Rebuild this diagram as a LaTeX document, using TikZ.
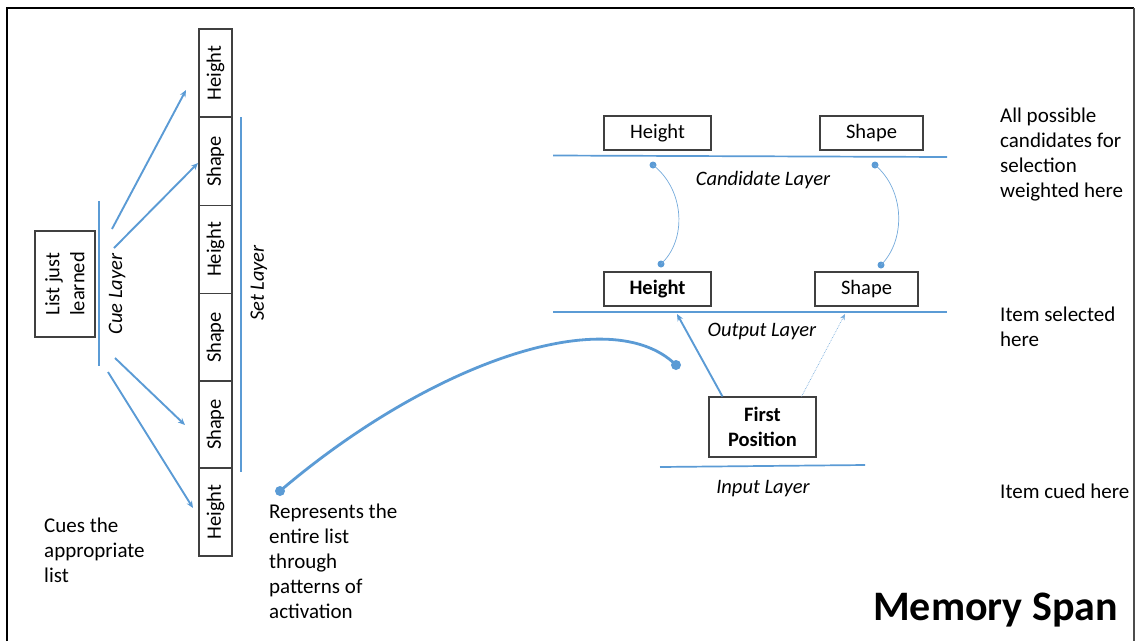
\documentclass[tikz,border=0pt]{standalone}
\usepackage{fontspec}
\setmainfont{Carlito}
\usetikzlibrary{arrows.meta}
\definecolor{acc}{HTML}{5B9BD5}
\definecolor{boxline}{HTML}{404040}
\begin{document}
\begin{tikzpicture}[x=1pt,y=-1pt,
  txt/.style={font=\fontsize{21}{25}\selectfont, inner sep=0pt, align=left},
  lbl/.style={font=\fontsize{20.5}{25}\selectfont\itshape, inner sep=0pt},
  box/.style={draw=boxline, line width=1.1pt, font=\fontsize{20.5}{25}\selectfont, inner sep=0pt, align=center},
  layer/.style={draw=acc, line width=1.7pt},
  cuearrow/.style={draw=acc, line width=1.9pt, -{Stealth[length=7pt,width=6pt]}},
  thinarrow/.style={draw=acc!80, line width=0.7pt, densely dotted, -{Stealth[length=6pt,width=5pt]}},
  link/.style={draw=acc!85, line width=0.7pt},
  dot/.style={circle, fill=acc, inner sep=0pt, minimum size=#1},
  dot/.default=7pt]
\useasboundingbox (0,0) rectangle (1136,641);
% frame
\draw[line width=2.4pt, black] (7,641) -- (7,8) -- (1134,8);
\draw[line width=1.2pt, black!70] (1134,8) -- (1134,641);

% left part
\node[box, rotate=90, minimum width=106pt, minimum height=60pt] (list) at (65,284) {List just\\learned};
\draw[layer] (99,201) coordinate (cueT) -- (99,366) coordinate (cueB);
\node[lbl, rotate=90] (cuelbl) at (117,294) {Cue Layer};

\foreach \i/\t/\y in {1/Height/73, 2/Shape/161.5, 3/Height/249.5, 4/Shape/337.5, 5/Shape/424.5, 6/Height/512}
  \node[box, rotate=90, minimum width=88pt, minimum height=33pt] (s\i) at (215.5,\y) {\t};
\draw[layer] (241,117) coordinate (setT) -- (241,472) coordinate (setB);
\node[lbl, rotate=90] (setlbl) at (259,283) {Set Layer};

\coordinate (a1s) at (112,229); \coordinate (a1e) at (186,90);
\coordinate (a2s) at (114,248); \coordinate (a2e) at (198,163);
\coordinate (a3s) at (115,358); \coordinate (a3e) at (185,425);
\coordinate (a4s) at (108,372); \coordinate (a4e) at (193,508);
\draw[cuearrow] (a1s) -- (a1e);
\draw[cuearrow] (a2s) -- (a2e);
\draw[cuearrow] (a3s) -- (a3e);
\draw[cuearrow] (a4s) -- (a4e);

% anchor=base west puts the LAST line on the given baseline
\node[txt, anchor=base west] (cues) at (44,582) {Cues the\\appropriate\\list};
\node[txt, anchor=base west] (repr) at (269,618) {Represents the\\entire list\\through\\patterns of\\activation};

% big curve
\node[dot=10pt] (d1) at (280,491) {};
\node[dot=10pt] (d2) at (676,365) {};
\draw[acc, line width=2.8pt] (d1.center) .. controls (430,363) and (610,300) .. (d2.center);

% right part: candidate layer
\node[box, minimum width=107pt, minimum height=34pt] (ch) at (657.5,133) {Height};
\node[box, minimum width=103pt, minimum height=34pt] (cs) at (871.5,133) {Shape};
\draw[layer] (553,155.5) coordinate (candL) -- (947,157) coordinate (candR);
\node[lbl] (candlbl) at (763,180) {Candidate Layer};

% output layer
\node[box, minimum width=107pt, minimum height=34pt, font=\fontsize{20.5}{25}\selectfont\bfseries] (oh) at (657.5,289) {Height};
\node[box, minimum width=103pt, minimum height=34pt] (os) at (866.5,289) {Shape};
\draw[layer] (553,312) coordinate (outL) -- (947,312) coordinate (outR);
\node[lbl] (outlbl) at (762,331) {Output Layer};

% links between layers
\node[dot] (l1) at (653,165) {};
\node[dot] (l2) at (661,264) {};
\node[dot] (r1) at (875,165) {};
\node[dot] (r2) at (881,265) {};
\draw[link] (l1.center) .. controls (685,190) and (687,240) .. (l2.center);
\draw[link] (r1.center) .. controls (905,190) and (906,240) .. (r2.center);

% input layer
\node[box, minimum width=107pt, minimum height=60pt, font=\fontsize{20.5}{25}\selectfont\bfseries] (fp) at (762.5,427) {First\\Position};
\draw[layer] (660,467) coordinate (inL) -- (865,465) coordinate (inR);
\node[lbl] (inlbl) at (763,489) {Input Layer};

\coordinate (hTip) at (677,314);
\coordinate (sTip) at (845,314);
\draw[cuearrow] (fp.north west) ++(14,0) coordinate (fpA) -- (hTip);
\draw[thinarrow] (fp.north east) ++(-15,0) coordinate (fpB) -- (sTip);

% right notes
\node[txt, anchor=base west] (n1) at (1000,197) {All possible\\candidates for\\selection\\weighted here};
\node[txt, anchor=base west] (n2) at (1000,346) {Item selected\\here};
\node[txt, anchor=base west] (n3) at (1000,498) {Item cued here};

\node[font=\fontsize{42}{50}\selectfont\bfseries, inner sep=0pt, anchor=base west] (title) at (873,620) {Memory Span};
\end{tikzpicture}
\end{document}
